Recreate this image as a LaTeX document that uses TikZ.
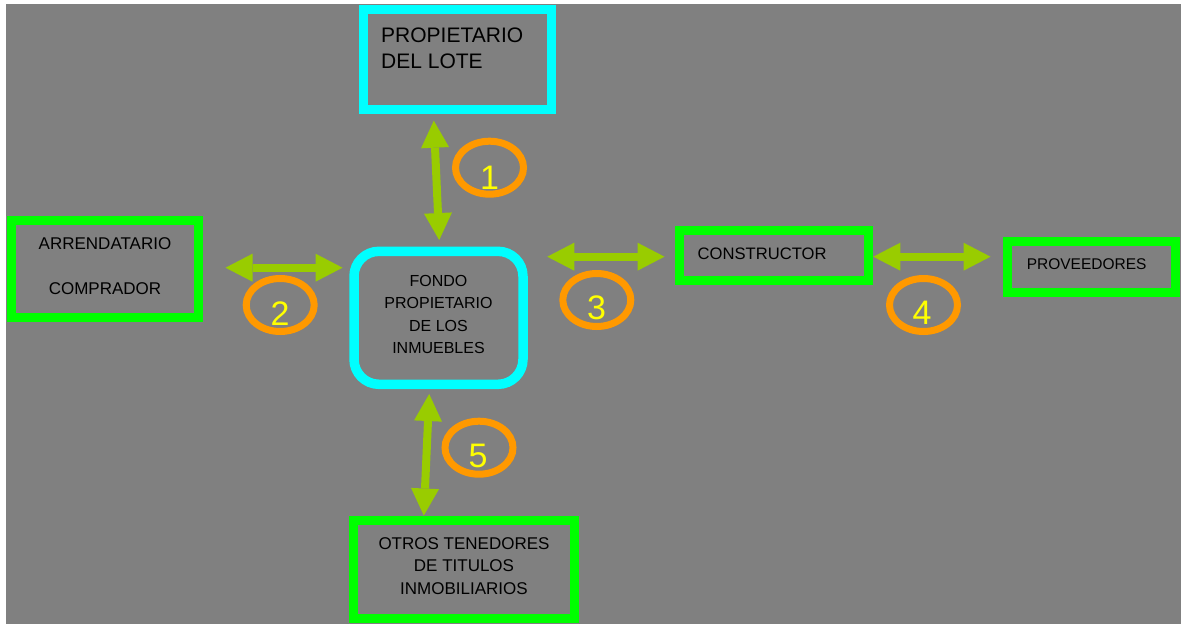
\documentclass[tikz,border=0pt]{standalone}
\usepackage{fontspec}
\setmainfont{Liberation Sans}
\usetikzlibrary{arrows.meta,shapes.geometric,calc}
\definecolor{bgc}{HTML}{808080}
\definecolor{cyanc}{HTML}{00FFFF}
\definecolor{greenc}{HTML}{00FF00}
\definecolor{arrowc}{HTML}{99CC00}
\definecolor{orangec}{HTML}{FF9900}
\definecolor{yellowc}{HTML}{FFFF00}
\begin{document}
\begin{tikzpicture}[x=1pt,y=-1pt,
  box/.style={draw, line width=9pt, inner sep=0pt, text=black, align=center},
  cyanbox/.style={box, draw=cyanc},
  greenbox/.style={box, draw=greenc},
  biarrow/.style={draw=arrowc, line width=8pt,
    {Triangle[width=28pt,length=27pt,line width=0pt]}-{Triangle[width=28pt,length=27pt,line width=0pt]}},
  numell/.style={ellipse, draw=orangec, line width=7pt, minimum width=68pt, minimum height=53pt, inner sep=0pt},
  numtxt/.style={text=yellowc, inner sep=0pt, font=\fontsize{34}{34}\selectfont},
  lbl/.style={inner sep=0pt, text=black, align=left, anchor=west}
]
\useasboundingbox (0,0) rectangle (1181,624);
\fill[white] (0,0) rectangle (1181,624);
\fill[bgc] (6,4) rectangle (1181,624);

% boxes
\node[cyanbox, minimum width=187.7pt, minimum height=99.4pt] (lote) at (457.3,59.5) {};
\node[lbl, font=\fontsize{21}{26}\selectfont] (lotetxt) at (381,48) {PROPIETARIO\\DEL LOTE};

\node[greenbox, minimum width=187pt, minimum height=97pt, text depth=6.4pt, font=\fontsize{17}{45}\selectfont] (arr) at (105,269) {ARRENDATARIO\\COMPRADOR};

\node[cyanbox, rounded corners=25pt, line width=9.5pt, minimum width=169pt, minimum height=133pt, text depth=6.6pt, font=\fontsize{16}{22.3}\selectfont] (fondo) at (438.5,317.8) {FONDO\\PROPIETARIO\\DE LOS\\INMUEBLES};

\node[greenbox, minimum width=188.8pt, minimum height=50.3pt] (cons) at (773.9,255.3) {};
\node[lbl, font=\fontsize{16.6}{20}\selectfont] (constxt) at (697.5,253.3) {CONSTRUCTOR};

\node[greenbox, minimum width=168pt, minimum height=50.7pt] (prov) at (1091.5,266.8) {};
\node[lbl, font=\fontsize{15.5}{20}\selectfont] (provtxt) at (1026.6,264.2) {PROVEEDORES};

\node[greenbox, minimum width=220.7pt, minimum height=98pt, text depth=7pt, font=\fontsize{17}{22.5}\selectfont] (otros) at (464,569.5) {OTROS TENEDORES\\DE TITULOS\\INMOBILIARIOS};

% arrows
\draw[biarrow] ($(lote.south)+(-23.5,7)$) -- ($(fondo.north)+(0.7,-6.5)$);
\draw[biarrow] ($(arr.east)+(22.5,-1.3)$) -- ($(arr.east -| fondo.west)+(-6.7,-1.3)$);
\draw[biarrow] ($(cons.west -| fondo.east)+(19.5,1.4)$) -- ($(cons.west)+(-10.5,1.4)$);
\draw[biarrow] ($(cons.east)+(0.5,1.4)$) -- ($(cons.east -| prov.west)+(-12.5,1.4)$);
\draw[biarrow] ($(fondo.south)+(-9.3,5)$) -- ($(otros.north)+(-40.2,-0.5)$);

% numbered ellipses
\node[numell] (e1) at (489.5,167.7) {};
\node[numtxt] (d1) at (489.5,177.5) {1};
\node[numell] (e2) at (280.2,305) {};
\node[numtxt] (d2) at (280,313.3) {2};
\node[numell] (e3) at (596.8,300) {};
\node[numtxt] (d3) at (596.5,308) {3};
\node[numell] (e4) at (923.5,305) {};
\node[numtxt] (d4) at (922,313) {4};
\node[numell] (e5) at (479,447.7) {};
\node[numtxt] (d5) at (478,456) {5};
\end{tikzpicture}
\end{document}
